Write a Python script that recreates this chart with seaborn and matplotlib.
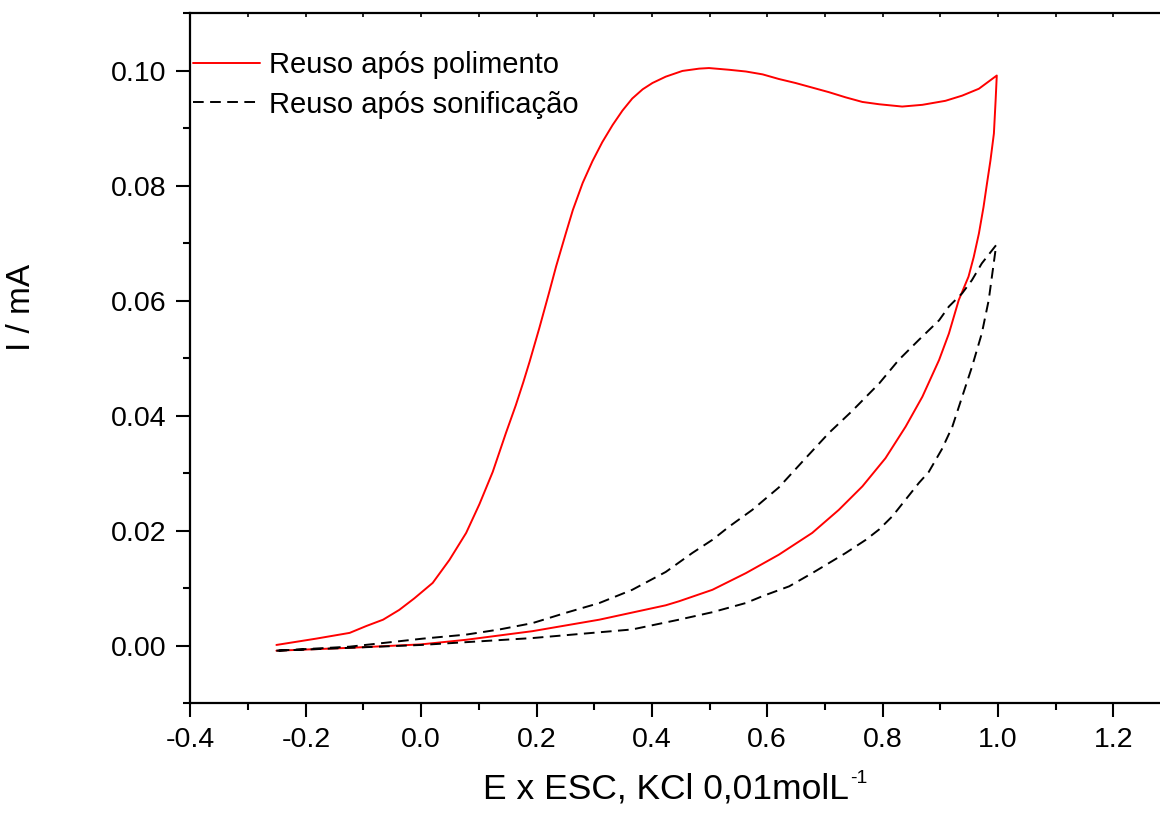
import numpy as np
import matplotlib
matplotlib.use('Agg')
import matplotlib.pyplot as plt
import seaborn as sns
from matplotlib.ticker import MultipleLocator, FormatStrFormatter

# Reuso após polimento (red), forward then reverse scan
e_pol_fwd = [-0.251, -0.182, -0.124, -0.095, -0.066, -0.038, -0.012, 0.020, 0.049, 0.078, 0.101, 0.124,
             0.147, 0.164, 0.177, 0.188, 0.205, 0.222, 0.234, 0.251, 0.263, 0.280, 0.297, 0.314, 0.332,
             0.349, 0.366, 0.384, 0.401, 0.424, 0.453, 0.482, 0.499, 0.534, 0.563, 0.592, 0.620, 0.649,
             0.678, 0.707, 0.736, 0.765, 0.794, 0.834, 0.869, 0.909, 0.938, 0.967, 0.998]
i_pol_fwd = [0.0001, 0.0012, 0.0022, 0.0034, 0.0045, 0.0062, 0.0082, 0.0109, 0.0149, 0.0196, 0.0246, 0.0302,
             0.0370, 0.0418, 0.0458, 0.0494, 0.0553, 0.0615, 0.0660, 0.0718, 0.0758, 0.0805, 0.0843, 0.0876, 0.0906,
             0.0931, 0.0952, 0.0968, 0.0979, 0.0990, 0.1000, 0.1004, 0.1005, 0.1002, 0.0999, 0.0994, 0.0986, 0.0979,
             0.0971, 0.0963, 0.0954, 0.0946, 0.0942, 0.0938, 0.0941, 0.0948, 0.0957, 0.0969, 0.0992]
e_pol_rev = [0.998, 0.996, 0.993, 0.987, 0.981, 0.975, 0.967, 0.958, 0.949, 0.932, 0.915, 0.898, 0.869,
             0.840, 0.805, 0.765, 0.724, 0.678, 0.620, 0.563, 0.505, 0.447, 0.424, 0.309, 0.193, 0.078,
             0.0, -0.124, -0.251]
i_pol_rev = [0.0992, 0.0949, 0.0891, 0.0844, 0.0804, 0.0763, 0.0717, 0.0676, 0.0642, 0.0601, 0.0543, 0.0497, 0.0433,
             0.0381, 0.0326, 0.0277, 0.0236, 0.0196, 0.0158, 0.0126, 0.0097, 0.0077, 0.0070, 0.0045, 0.0025, 0.0010,
             0.0002, -0.0004, -0.0009]

# Reuso após sonificação (black dashed)
e_son_fwd = [-0.251, -0.124, 0.0, 0.193, 0.366, 0.447, 0.505, 0.563, 0.592, 0.638, 0.678, 0.736, 0.771,
             0.794, 0.817, 0.840, 0.863, 0.880, 0.903, 0.921, 0.938, 0.955, 0.972, 0.984, 0.997]
i_son_fwd = [-0.0009, -0.0004, 0.0001, 0.0013, 0.0028, 0.0045, 0.0058, 0.0074, 0.0086, 0.0103, 0.0126, 0.0161, 0.0184,
             0.0202, 0.0225, 0.0254, 0.0283, 0.0302, 0.0342, 0.0381, 0.0433, 0.0485, 0.0543, 0.0601, 0.0697]
e_son_rev = [0.997, 0.972, 0.955, 0.938, 0.915, 0.898, 0.863, 0.828, 0.794, 0.747, 0.707, 0.661, 0.620,
             0.574, 0.534, 0.505, 0.470, 0.424, 0.366, 0.309, 0.251, 0.193, 0.136, 0.078, 0.003, -0.124, -0.251]
i_son_rev = [0.0697, 0.0665, 0.0636, 0.0613, 0.0590, 0.0566, 0.0532, 0.0497, 0.0456, 0.0408, 0.0370, 0.0320, 0.0275,
             0.0236, 0.0207, 0.0184, 0.0161, 0.0128, 0.0097, 0.0074, 0.0057, 0.0039, 0.0028, 0.0019, 0.0012, -0.0002, -0.0009]

sns.set_style('ticks')
plt.rcParams['font.family'] = ['Liberation Sans', 'DejaVu Sans']
for k in ['text.color', 'axes.labelcolor', 'xtick.color', 'ytick.color', 'axes.edgecolor']:
    plt.rcParams[k] = 'black'

fig = plt.figure(figsize=(11.6, 8.16), dpi=100)
ax = fig.add_axes([0.1642, 0.1385, 0.8358, 0.845])

sns.lineplot(x=e_pol_fwd + e_pol_rev[1:], y=i_pol_fwd + i_pol_rev[1:], sort=False, estimator=None,
             color='#ff0000', lw=1.4, label='Reuso após polimento', ax=ax)
sns.lineplot(x=e_son_fwd + e_son_rev[1:], y=i_son_fwd + i_son_rev[1:], sort=False, estimator=None,
             color='black', lw=1.4, linestyle=(0, (5.5, 3.3)), label='Reuso após sonificação', ax=ax)

ax.set_xlim(-0.4, 1.281)
ax.set_ylim(-0.01, 0.11)
ax.xaxis.set_major_locator(MultipleLocator(0.2))
ax.xaxis.set_minor_locator(MultipleLocator(0.1))
ax.yaxis.set_major_locator(MultipleLocator(0.02))
ax.yaxis.set_minor_locator(MultipleLocator(0.01))
ax.xaxis.set_major_formatter(FormatStrFormatter('%.1f'))
ax.yaxis.set_major_formatter(FormatStrFormatter('%.2f'))

ax.tick_params(which='major', direction='out', length=10, width=1.5, labelsize=20.5, pad=7)
ax.tick_params(which='minor', direction='out', length=5, width=1.5)
ax.spines['right'].set_visible(False)
for s in ['left', 'bottom', 'top']:
    ax.spines[s].set_linewidth(1.6)

# small inward ticks along the top spine
top = ax.secondary_xaxis('top')
top.xaxis.set_major_locator(MultipleLocator(0.1))
top.tick_params(direction='in', length=3, width=1.2, labeltop=False)
top.spines['top'].set_visible(False)

ax.set_xlabel('E x ESC, KCl 0,01molL', fontsize=25.5)
ax.set_ylabel('I / mA', fontsize=24)
ax.xaxis.set_label_coords(0.49, -0.101)
ax.yaxis.set_label_coords(-0.158, 0.574)

ax.legend(loc='upper left', bbox_to_anchor=(0.0, 0.950), frameon=False, fontsize=21,
          handlelength=2.3, handletextpad=0.3, labelspacing=0.4, borderaxespad=0.0, borderpad=0.1)

# superscript "-1" after the x label
fig.canvas.draw()
bb = ax.xaxis.label.get_window_extent()
W, H = fig.bbox.width, fig.bbox.height
fig.text((bb.x1 + 2) / W, (bb.y1 + 3) / H, '-1', fontsize=14, va='top', ha='left')

fig.savefig('out.png', dpi=100)
